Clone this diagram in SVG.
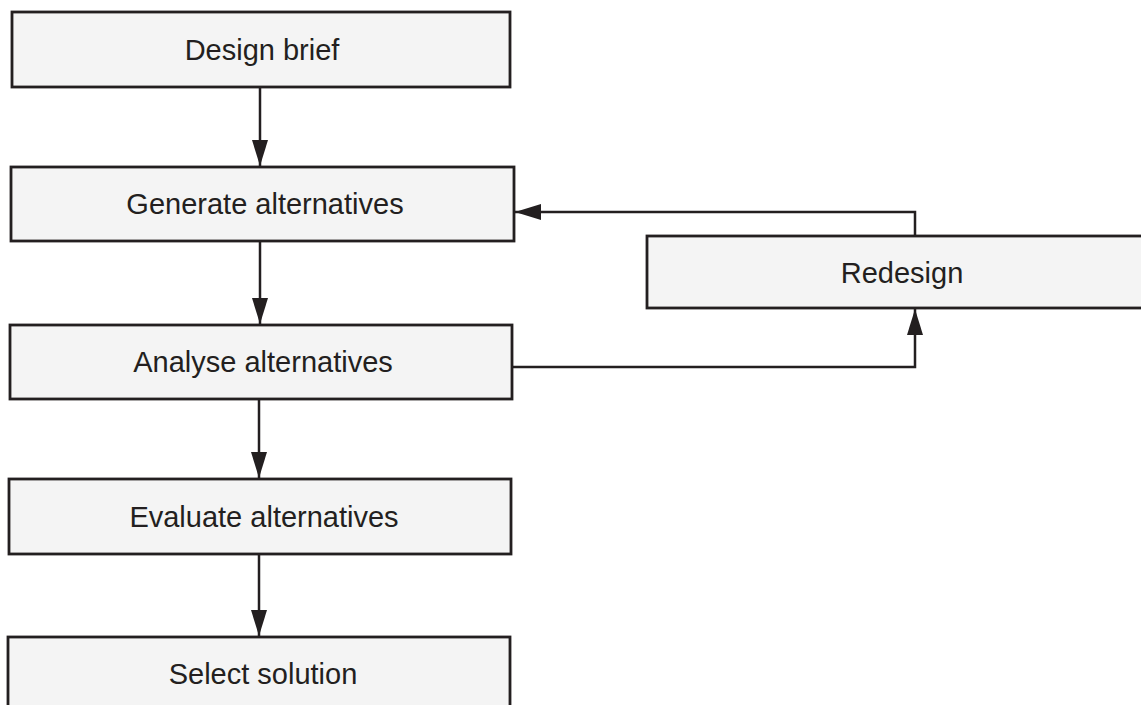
<svg xmlns="http://www.w3.org/2000/svg" width="1141" height="705" viewBox="0 0 1141 705">
  <style>
    .box { fill: #f4f4f4; stroke: #231f20; stroke-width: 2.8; }
    .lbl { font-family: "Liberation Sans", Arial, sans-serif; font-size: 29px; fill: #231f20; text-anchor: middle; }
    .conn { fill: none; stroke: #231f20; stroke-width: 2.5; }
  </style>
  <defs>
    <marker id="arr" viewBox="0 0 26 16" refX="26" refY="8" markerWidth="26" markerHeight="16" markerUnits="userSpaceOnUse" orient="auto">
      <path d="M0,0 L26,8 L0,16 z" fill="#231f20"/>
    </marker>
  </defs>
  <rect width="1141" height="705" fill="#ffffff"/>
  <g id="connectors">
    <path class="conn" d="M260,87 V166" marker-end="url(#arr)"/>
    <path class="conn" d="M260,241 V324" marker-end="url(#arr)"/>
    <path class="conn" d="M259,399 V478" marker-end="url(#arr)"/>
    <path class="conn" d="M259,554 V636" marker-end="url(#arr)"/>
    <path class="conn" d="M512,367 H915 V309" marker-end="url(#arr)"/>
    <path class="conn" d="M915,236 V212 H515" marker-end="url(#arr)"/>
  </g>
  <g id="design-brief">
    <rect class="box" x="12" y="12" width="498" height="75"/>
    <text class="lbl" x="262" y="60">Design brief</text>
  </g>
  <g id="generate-alternatives">
    <rect class="box" x="11" y="167" width="503" height="74"/>
    <text class="lbl" x="265" y="214">Generate alternatives</text>
  </g>
  <g id="analyse-alternatives">
    <rect class="box" x="10" y="325" width="502" height="74"/>
    <text class="lbl" x="263" y="372">Analyse alternatives</text>
  </g>
  <g id="evaluate-alternatives">
    <rect class="box" x="9" y="479" width="502" height="75"/>
    <text class="lbl" x="264" y="527">Evaluate alternatives</text>
  </g>
  <g id="select-solution">
    <rect class="box" x="8" y="637" width="502" height="80"/>
    <text class="lbl" x="263" y="684">Select solution</text>
  </g>
  <g id="redesign">
    <rect class="box" x="647" y="236" width="520" height="72"/>
    <text class="lbl" x="902" y="283">Redesign</text>
  </g>
</svg>
